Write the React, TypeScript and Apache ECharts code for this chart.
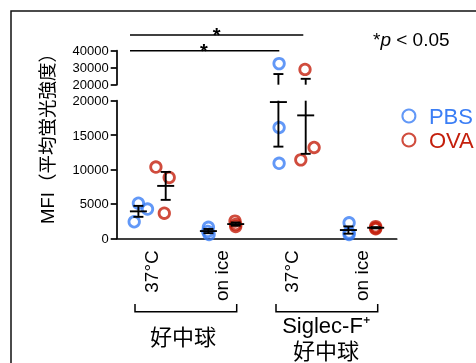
import React, { useEffect, useRef } from "react";
import * as echarts from "echarts";

const categories = ["37°C", "on ice", "37°C", "on ice"];
const seriesNames = ["PBS", "OVA"];
const pbsValues = [
  [2400, 5100, 4250],
  [1600, 1000, 550],
  [32400, 16100, 10900],
  [2250, 800, 550],
];
const ovaValues = [
  [10350, 8850, 3650],
  [2500, 2000, 1700],
  [29000, 11400, 13200],
  [1700, 1500, 1400],
];
const lowerTicks = [0, 5000, 10000, 15000, 20000];
const upperTicks = [20000, 30000, 40000];
const groupLabels = ["好中球", "Siglec-F⁺\n好中球"];

// display-only horizontal scatter of the dots (category units)
const pbsJitter = [
  [-0.25, -0.19, -0.06],
  [-0.19, -0.2, -0.18],
  [-0.18, -0.18, -0.18],
  [-0.18, -0.18, -0.18],
];
const ovaJitter = [
  [0.06, 0.25, 0.18],
  [0.19, 0.2, 0.2],
  [0.19, 0.13, 0.32],
  [0.2, 0.2, 0.2],
];
const PBS_OFF = -0.19;
const OVA_OFF = 0.2;

const BLUE = "#3b7ef5";
const RED = "#c41f0c";
const FONT = '"Liberation Sans", Arial, "Noto Sans CJK JP", sans-serif';
const BREAK = lowerTicks[lowerTicks.length - 1];

function meanSem(arr: number[]) {
  const n = arr.length;
  const m = arr.reduce((a, b) => a + b, 0) / n;
  const sd = Math.sqrt(arr.reduce((a, b) => a + (b - m) * (b - m), 0) / (n - 1));
  return [m, sd / Math.sqrt(n)];
}

export default function App() {
  const ref = useRef<HTMLDivElement>(null);
  useEffect(() => {
    if (!ref.current) return;
    const chart = echarts.init(ref.current, undefined, { renderer: "svg" });

    const pointsFor = (vals: number[][], jit: number[][], upper: boolean) => {
      const out: number[][] = [];
      vals.forEach((g, gi) =>
        g.forEach((v, i) => {
          if (upper ? v > BREAK : v <= BREAK) out.push([gi + jit[gi][i], v]);
        })
      );
      return out;
    };
    const errFor = (vals: number[][], off: number) =>
      vals.map((g, gi) => {
        const [m, s] = meanSem(g);
        return [gi + off, m, m - s, m + s];
      });

    const makeRender = (upper: boolean) => (params: any, api: any) => {
      const x = api.value(0), m = api.value(1), lo = api.value(2), hi = api.value(3);
      const children: any[] = [];
      const st = { stroke: "#000", lineWidth: 1.9 };
      const hl = (v: number, hw: number) => {
        const p = api.coord([x, v]);
        children.push({ type: "line", shape: { x1: p[0] - hw, y1: p[1], x2: p[0] + hw, y2: p[1] }, style: st });
      };
      if (!upper) {
        const top = Math.min(hi, BREAK);
        const a = api.coord([x, lo]);
        const b = api.coord([x, top]);
        children.push({ type: "line", shape: { x1: a[0], y1: a[1], x2: b[0], y2: b[1] }, style: st });
        hl(lo, 5);
        if (hi <= BREAK) hl(hi, 5);
        if (m <= BREAK) hl(m, 8.5);
      } else {
        if (hi > BREAK) {
          const a = api.coord([x, Math.max(lo, BREAK)]);
          const b = api.coord([x, hi]);
          children.push({ type: "line", shape: { x1: a[0], y1: a[1], x2: b[0], y2: b[1] }, style: st });
          hl(hi, 5);
          if (m > BREAK) hl(m, 8.5);
        }
      }
      return { type: "group", children };
    };

    const scatterStyle = (c: string) => ({
      color: "rgba(255,255,255,0)",
      borderColor: c,
      borderWidth: 2.8,
    });

    const colors = [BLUE, RED];
    const vals = [pbsValues, ovaValues];
    const jits = [pbsJitter, ovaJitter];
    const offs = [PBS_OFF, OVA_OFF];

    const series: any[] = [];
    seriesNames.forEach((name, si) => {
      series.push({
        name,
        type: "scatter",
        xAxisIndex: 1,
        yAxisIndex: 0,
        symbol: "circle",
        symbolSize: 10.5,
        itemStyle: scatterStyle(colors[si]),
        data: pointsFor(vals[si], jits[si], false),
        z: 2,
      });
      series.push({
        name,
        type: "scatter",
        xAxisIndex: 2,
        yAxisIndex: 1,
        symbol: "circle",
        symbolSize: 10.5,
        itemStyle: scatterStyle(colors[si]),
        data: pointsFor(vals[si], jits[si], true),
        z: 2,
      });
      series.push({
        type: "custom",
        xAxisIndex: 1,
        yAxisIndex: 0,
        renderItem: makeRender(false),
        data: errFor(vals[si], offs[si]),
        z: 3,
        silent: true,
      });
      series.push({
        type: "custom",
        xAxisIndex: 2,
        yAxisIndex: 1,
        renderItem: makeRender(true),
        data: errFor(vals[si], offs[si]),
        z: 3,
        silent: true,
      });
    });

    const axisLineStyle = { onZero: false, lineStyle: { color: "#000", width: 1.7 } };
    const yLabel = { fontSize: 13, color: "#000", fontFamily: FONT, margin: 8, formatter: (v: number) => String(v) };

    chart.setOption({
      animation: false,
      grid: [
        { left: 116.7, top: 100.7, width: 280, height: 137.6 },
        { left: 116.7, top: 50.7, width: 280, height: 34 },
      ],
      legend: {
        data: [
          { name: "PBS", textStyle: { color: BLUE } },
          { name: "OVA", textStyle: { color: RED } },
        ],
        orient: "vertical",
        left: 401.4,
        top: 105,
        padding: 0,
        itemGap: 2,
        itemWidth: 30,
        itemHeight: 13,
        icon: "circle",
        textStyle: { fontSize: 22, fontFamily: FONT },
        selectedMode: false,
      },
      xAxis: [
        {
          type: "category",
          gridIndex: 0,
          data: categories,
          axisLine: axisLineStyle,
          axisTick: { alignWithLabel: true, length: 7, lineStyle: { color: "#000", width: 1.7 } },
          axisLabel: { rotate: 90, margin: 12, fontSize: 19, color: "#000", fontFamily: FONT },
        },
        { type: "value", gridIndex: 0, min: -0.5, max: 3.5, show: false },
        { type: "value", gridIndex: 1, min: -0.5, max: 3.5, show: false },
      ],
      yAxis: [
        {
          type: "value",
          gridIndex: 0,
          min: lowerTicks[0],
          max: lowerTicks[lowerTicks.length - 1],
          interval: lowerTicks[1] - lowerTicks[0],
          axisLine: { show: true, ...axisLineStyle },
          axisTick: { show: true, length: 6, lineStyle: { color: "#000", width: 1.7 } },
          splitLine: { show: false },
          axisLabel: yLabel,
        },
        {
          type: "value",
          gridIndex: 1,
          min: upperTicks[0],
          max: upperTicks[upperTicks.length - 1],
          interval: upperTicks[1] - upperTicks[0],
          axisLine: { show: true, ...axisLineStyle },
          axisTick: { show: true, length: 6, lineStyle: { color: "#000", width: 1.7 } },
          splitLine: { show: false },
          axisLabel: yLabel,
        },
      ],
      graphic: [
        { type: "rect", shape: { x: 11, y: 11, width: 520, height: 420 }, style: { fill: "none", stroke: "#111", lineWidth: 1.5 } },
        {
          type: "text",
          x: 47.5,
          y: 134,
          rotation: Math.PI / 2,
          style: { text: "MFI（平均蛍光強度）", fontSize: 18.5, fontFamily: FONT, fill: "#000", textAlign: "center", textVerticalAlign: "middle" },
        },
        { type: "line", shape: { x1: 130, y1: 35, x2: 303.3, y2: 35 }, style: { stroke: "#000", lineWidth: 1.5 } },
        { type: "line", shape: { x1: 130, y1: 50.7, x2: 279.3, y2: 50.7 }, style: { stroke: "#000", lineWidth: 1.5 } },
        { type: "text", x: 216.7, y: 35, style: { text: "*", fontSize: 20, fontWeight: "bold", fontFamily: FONT, fill: "#000", textAlign: "center", textVerticalAlign: "middle" } },
        { type: "text", x: 204, y: 50.5, style: { text: "*", fontSize: 20, fontWeight: "bold", fontFamily: FONT, fill: "#000", textAlign: "center", textVerticalAlign: "middle" } },
        {
          type: "text",
          x: 373,
          y: 39,
          style: {
            text: "{a|*}{b|p}{a| < 0.05}",
            textVerticalAlign: "middle",
            rich: {
              a: { fontSize: 19, fontFamily: FONT, fill: "#000" },
              b: { fontSize: 19, fontFamily: FONT, fontStyle: "italic", fill: "#000" },
            },
          },
        },
        { type: "polyline", shape: { points: [[135, 304], [135, 311.7], [236.7, 311.7], [236.7, 304]] }, style: { stroke: "#000", lineWidth: 1.5, fill: "none" } },
        { type: "polyline", shape: { points: [[276, 304], [276, 311.7], [377.7, 311.7], [377.7, 304]] }, style: { stroke: "#000", lineWidth: 1.5, fill: "none" } },
        { type: "text", x: 183, y: 337, style: { text: groupLabels[0], fontSize: 22, fontFamily: FONT, fill: "#000", textAlign: "center", textVerticalAlign: "middle" } },
        { type: "text", x: 326, y: 338, style: { text: groupLabels[1], fontSize: 22, lineHeight: 26, fontFamily: FONT, fill: "#000", textAlign: "center", textVerticalAlign: "middle" } },
      ],
      series,
    });
    return () => chart.dispose();
  }, []);
  return <div ref={ref} style={{ position: "fixed", left: 0, top: 0, width: 476, height: 363 }} />;
}
